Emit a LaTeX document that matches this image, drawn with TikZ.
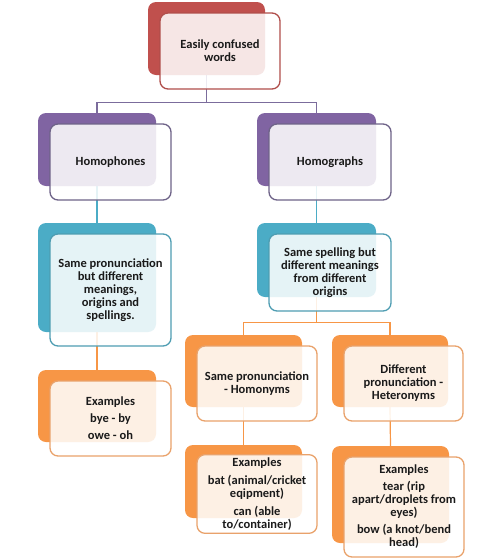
\documentclass[tikz,border=0pt]{standalone}
\usepackage{fontspec}
\setmainfont{Carlito}
\usetikzlibrary{backgrounds}
\definecolor{cred}{HTML}{C0504D}
\definecolor{cpur}{HTML}{8064A2}
\definecolor{cblu}{HTML}{4BACC6}
\definecolor{cora}{HTML}{F79646}
\definecolor{bred}{HTML}{B04E4B}
\definecolor{bpur}{HTML}{6E6388}
\definecolor{bblu}{HTML}{4E9DB2}
\definecolor{bora}{HTML}{E9A26B}
\definecolor{lpur}{HTML}{7B6C9C}
\definecolor{txt}{HTML}{1A1A1A}
\tikzset{
  backbox/.style={draw=none, rounded corners=8pt, inner sep=0pt},
  frontbox/.style={rounded corners=8pt, line width=1.3pt, fill=white, fill opacity=0.86,
    text opacity=1, inner sep=3pt, align=center, text=txt,
    font=\fontsize{12.5}{13}\selectfont\bfseries},
  conn/.style={line width=1.2pt, draw=#1},
}
\newcommand\twobox[8]{%
  \pgfmathsetmacro\bcx{(#4+#6)/2}%
  \pgfmathsetmacro\bcy{(#5+#7)/2}%
  \pgfmathsetmacro\bw{#6-#4}%
  \pgfmathsetmacro\bh{#7-#5}%
  \pgfmathsetmacro\fcx{\bcx+13.5}%
  \pgfmathsetmacro\fcy{\bcy+12.5}%
  \pgfmathsetmacro\fw{\bw+3}%
  \pgfmathsetmacro\fh{\bh+3}%
  \node[backbox, fill=#2, minimum width=\bw pt, minimum height=\bh pt] (#1b) at (\bcx,\bcy) {};
  \node[frontbox, draw=#3, minimum width=\fw pt, minimum height=\fh pt] (#1) at (\fcx,\fcy) {#8};
}
\begin{document}
\begin{tikzpicture}[x=1pt, y=-1pt]
\useasboundingbox (0,0) rectangle (500,560);
\twobox{title}{cred}{bred}{148}{2}{265}{75}{Easily confused\\words}
\twobox{phones}{cpur}{bpur}{38}{113}{156}{186}{Homophones}
\twobox{graphs}{cpur}{bpur}{257}{113}{376}{186}{Homographs}
\twobox{phdesc}{cblu}{bblu}{38}{223}{156}{332}{Same pronunciation\\but different\\meanings,\\origins and\\spellings.}
\twobox{grdesc}{cblu}{bblu}{257}{223}{376}{297}{Same spelling but\\different meanings\\from different\\origins}
\twobox{hom}{cora}{bora}{185}{335}{302}{407}{Same pronunciation\\- Homonyms}
\twobox{het}{cora}{bora}{332}{335}{448}{407}{Different\\pronunciation -\\Heteronyms}
\twobox{phex}{cora}{bora}{38}{370}{156}{442}{Examples\\[4pt]bye - by\\[4pt]owe - oh}
\twobox{nymex}{cora}{bora}{185}{445}{302}{518}{Examples\\[5pt]bat (animal/cricket\\eqipment)\\[5pt]can (able\\to/container)}
\twobox{hetex}{cora}{bora}{332}{446}{449}{543}{Examples\\[4pt]tear (rip\\apart/droplets from\\eyes)\\[4pt]bow (a knot/bend\\head)}
\begin{scope}[on background layer]
  \coordinate (j1) at ([yshift=-27pt]titleb.south);
  \draw[conn=lpur] (titleb.south) -- (j1) -| (phonesb.north);
  \draw[conn=lpur] (j1) -| (graphsb.north);
  \draw[conn=cblu] (phonesb.south) -- (phdescb.north);
  \draw[conn=cblu] (graphsb.south) -- (grdescb.north);
  \draw[conn=cora] (phdescb.south) -- (phexb.north);
  \coordinate (j2) at ([yshift=-25pt]grdescb.south);
  \draw[conn=cora] (grdescb.south) -- (j2) -| (homb.north);
  \draw[conn=cora] (j2) -| (hetb.north);
  \draw[conn=cora] (homb.south) -- (nymexb.north);
  \draw[conn=cora] (hetb.south) -- (hetexb.north);
\end{scope}
\end{tikzpicture}
\end{document}
